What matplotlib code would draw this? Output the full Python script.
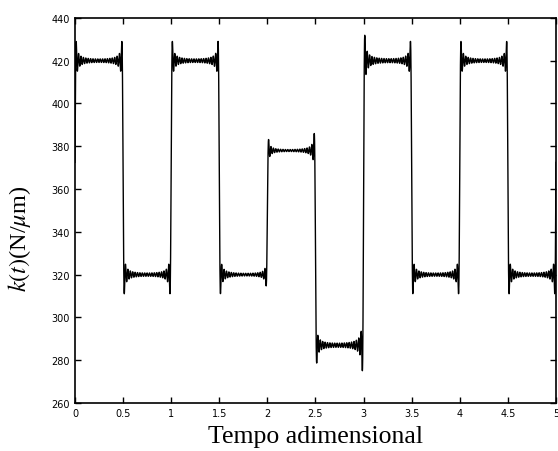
import numpy as np
import matplotlib
matplotlib.use('Agg')
import matplotlib.pyplot as plt

plt.rcParams['mathtext.fontset'] = 'stix'

# Step levels of k(t), one per half unit of time
seg_edges = [0, 0.5, 1, 1.5, 2, 2.5, 3, 3.5, 4, 4.5, 5]
seg_levels = [420, 320, 420, 320, 378, 287, 420, 320, 420, 320]
n_harmonics = 200  # truncated series -> Gibbs ringing at the jumps

x_ticks = [0, 0.5, 1, 1.5, 2, 2.5, 3, 3.5, 4, 4.5, 5]
x_ticklabels = ['0', '0.5', '1', '1.5', '2', '2.5', '3', '3.5', '4', '4.5', '5']
y_ticks = [260, 280, 300, 320, 340, 360, 380, 400, 420, 440]


def reconstruct(edges, levels, n, m=8000):
    # sample the step function over one period and keep n harmonics
    t = np.linspace(edges[0], edges[-1], m, endpoint=False)
    f = np.zeros(m)
    for a, b, v in zip(edges[:-1], edges[1:], levels):
        f[(t >= a) & (t < b)] = v
    spec = np.fft.rfft(f)
    spec[n + 1:] = 0
    g = np.fft.irfft(spec, m)
    t = np.append(t, edges[-1])
    g = np.append(g, g[0])
    return t, g


t, k = reconstruct(seg_edges, seg_levels, n_harmonics)

fig = plt.figure(figsize=(5.58, 4.52), dpi=100)
ax = fig.add_axes([0.1344, 0.1062, 0.862, 0.852])
ax.plot(t, k, color='black', linewidth=1.0)

ax.set_xlim(0, 5)
ax.set_ylim(260, 440)
ax.set_xticks(x_ticks)
ax.set_xticklabels(x_ticklabels)
ax.set_yticks(y_ticks)
ax.tick_params(direction='in', length=4, width=1, labelsize=7, top=True, right=True,
               labeltop=False, labelright=False)
for s in ax.spines.values():
    s.set_linewidth(1.2)

ax.set_xlabel('Tempo adimensional', family='Liberation Serif', fontsize=18.5, labelpad=5)
ax.set_ylabel(r'$k(t)$(N/$\mu$m)', family='Liberation Serif', fontsize=17.5)
ax.yaxis.set_label_coords(-0.087, 0.43)

fig.savefig('out.png', dpi=100)
